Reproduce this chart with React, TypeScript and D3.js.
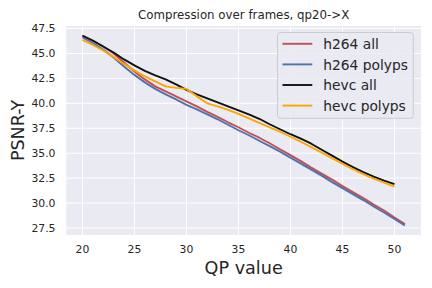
import React, { useEffect, useRef } from 'react';
import * as d3 from 'd3';

const qpAll = d3.range(20, 52);
const qpHevc = d3.range(20, 51);

const h264All = [46.75, 46.25, 45.7, 45.0, 44.1, 43.2, 42.4, 41.7, 41.2, 40.7, 40.2, 39.7, 39.15, 38.65, 38.1, 37.6,
    37.05, 36.55, 36.0, 35.4, 34.8, 34.2, 33.55, 32.95, 32.35, 31.7, 31.1, 30.5, 29.85, 29.25, 28.55, 27.9];
const h264Polyps = [46.6, 46.05, 45.4, 44.6, 43.7, 42.85, 42.1, 41.45, 40.9, 40.4, 39.85, 39.4, 38.9, 38.4, 37.85, 37.3,
    36.8, 36.25, 35.7, 35.15, 34.55, 33.95, 33.35, 32.75, 32.1, 31.5, 30.9, 30.3, 29.65, 29.05, 28.4, 27.75];
const hevcAll = [46.8, 46.3, 45.7, 45.1, 44.4, 43.8, 43.25, 42.8, 42.4, 41.9, 41.35, 40.9, 40.5, 40.1, 39.7, 39.3,
    38.9, 38.45, 37.9, 37.4, 36.9, 36.45, 35.95, 35.35, 34.75, 34.15, 33.6, 33.1, 32.65, 32.25, 31.9];
const hevcPolyps = [46.35, 45.85, 45.3, 44.65, 43.95, 43.3, 42.7, 42.2, 41.7, 41.55, 41.45, 40.7, 40.0, 39.7, 39.35, 38.95,
    38.5, 38.05, 37.6, 37.15, 36.65, 36.15, 35.6, 35.05, 34.5, 33.95, 33.4, 32.9, 32.45, 32.05, 31.65];

const seriesNames = ['h264 all', 'h264 polyps', 'hevc all', 'hevc polyps'];
const seriesColors = ['#C44E52', '#4C72B0', '#111111', '#FFA500'];
const xTicks = [20, 25, 30, 35, 40, 45, 50];
const yTicks = [27.5, 30.0, 32.5, 35.0, 37.5, 40.0, 42.5, 45.0, 47.5];

function App() {
    const svgRef = useRef(null);

    useEffect(() => {
        const svg = d3.select(svgRef.current);
        svg.selectAll('*').remove();

        const width = 432;
        const height = 288;
        const marginTop = 26;
        const marginRight = 11;
        const marginBottom = 53;
        const marginLeft = 66.3;
        const font = 'DejaVu Sans, sans-serif';
        const textColor = '#262626';

        const series = [
            { name: seriesNames[0], qp: qpAll, values: h264All },
            { name: seriesNames[1], qp: qpAll, values: h264Polyps },
            { name: seriesNames[2], qp: qpHevc, values: hevcAll },
            { name: seriesNames[3], qp: qpHevc, values: hevcPolyps },
        ];

        // matplotlib style 5% margins
        const xMin = d3.min(qpAll), xMax = d3.max(qpAll);
        const xPad = (xMax - xMin) * 0.05;
        const allVals = series.flatMap(s => s.values);
        const yMin = d3.min(allVals), yMax = d3.max(allVals);
        const yPad = (yMax - yMin) * 0.05;

        const x = d3.scaleLinear()
            .domain([xMin - xPad, xMax + xPad])
            .range([marginLeft, width - marginRight]);

        const y = d3.scaleLinear()
            .domain([yMin - yPad, yMax + yPad])
            .range([height - marginBottom, marginTop]);

        svg.append('rect')
            .attr('x', marginLeft)
            .attr('y', marginTop)
            .attr('width', width - marginLeft - marginRight)
            .attr('height', height - marginTop - marginBottom)
            .attr('fill', '#EAEAF2');

        // grid
        svg.append('g')
            .selectAll('line')
            .data(xTicks)
            .join('line')
            .attr('x1', d => x(d)).attr('x2', d => x(d))
            .attr('y1', marginTop).attr('y2', height - marginBottom)
            .attr('stroke', '#fff').attr('stroke-width', 1);

        svg.append('g')
            .selectAll('line')
            .data(yTicks)
            .join('line')
            .attr('x1', marginLeft).attr('x2', width - marginRight)
            .attr('y1', d => y(d)).attr('y2', d => y(d))
            .attr('stroke', '#fff').attr('stroke-width', 1);

        // tick labels
        svg.append('g')
            .selectAll('text')
            .data(xTicks)
            .join('text')
            .attr('x', d => x(d))
            .attr('y', 253.3)
            .attr('text-anchor', 'middle')
            .attr('font-family', font)
            .attr('font-size', 10.8)
            .attr('fill', textColor)
            .text(d => d);

        svg.append('g')
            .selectAll('text')
            .data(yTicks)
            .join('text')
            .attr('x', 55.5)
            .attr('y', d => y(d) + 3.9)
            .attr('text-anchor', 'end')
            .attr('font-family', font)
            .attr('font-size', 10.8)
            .attr('fill', textColor)
            .text(d => d3.format('.1f')(d));

        const line = d3.line()
            .x(d => x(d[0]))
            .y(d => y(d[1]));

        series.forEach((s, i) => {
            svg.append('path')
                .datum(s.qp.map((q, j) => [q, s.values[j]]))
                .attr('fill', 'none')
                .attr('stroke', seriesColors[i])
                .attr('stroke-width', 1.9)
                .attr('stroke-linejoin', 'round')
                .attr('d', line);
        });

        // title and axis labels
        svg.append('text')
            .attr('x', (marginLeft + width - marginRight) / 2)
            .attr('y', 19.3)
            .attr('text-anchor', 'middle')
            .attr('font-family', font)
            .attr('font-size', 11.8)
            .attr('fill', textColor)
            .text('Compression over frames, qp20->X');

        svg.append('text')
            .attr('x', (marginLeft + width - marginRight) / 2)
            .attr('y', 274)
            .attr('text-anchor', 'middle')
            .attr('font-family', font)
            .attr('font-size', 17.6)
            .attr('fill', textColor)
            .text('QP value');

        svg.append('text')
            .attr('transform', `translate(24.3,${(marginTop + height - marginBottom) / 2}) rotate(-90)`)
            .attr('text-anchor', 'middle')
            .attr('font-family', font)
            .attr('font-size', 17.5)
            .attr('fill', textColor)
            .text('PSNR-Y');

        // legend
        const legend = svg.append('g');
        legend.append('rect')
            .attr('x', 277.5).attr('y', 32.5)
            .attr('width', 135.8).attr('height', 85.8)
            .attr('rx', 3)
            .attr('fill', '#EAEAF2').attr('fill-opacity', 0.85)
            .attr('stroke', '#cccccc').attr('stroke-width', 1);

        series.forEach((s, i) => {
            const cy = 43.8 + i * 20.6;
            legend.append('line')
                .attr('x1', 282.5).attr('x2', 312.3)
                .attr('y1', cy).attr('y2', cy)
                .attr('stroke', seriesColors[i])
                .attr('stroke-width', 1.9);
            legend.append('text')
                .attr('x', 323.3)
                .attr('y', cy + 5.2)
                .attr('font-family', font)
                .attr('font-size', 13.8)
                .attr('fill', textColor)
                .text(s.name);
        });
    }, []);

    return (
        <svg ref={svgRef} width={432} height={288} style={{ position: 'absolute', left: 0, top: 0 }}></svg>
    );
}

export default App;
